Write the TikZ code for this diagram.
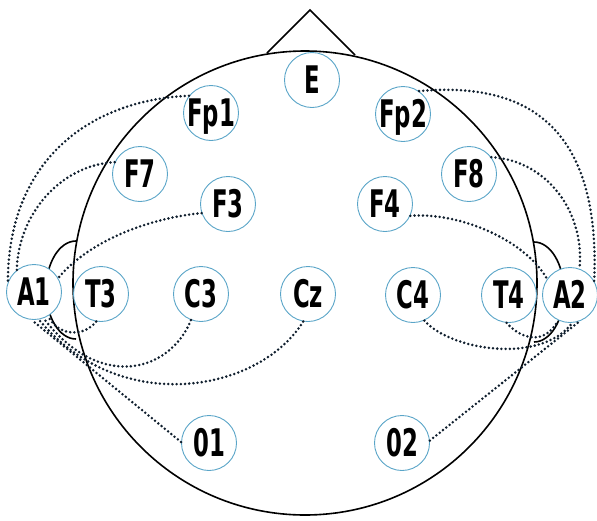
\documentclass[tikz,border=0pt]{standalone}
\usepackage{fontspec}
\newfontfamily\elfont[FakeStretch=0.6]{DejaVu Sans}
\definecolor{ring}{RGB}{90,165,200}
\definecolor{dots}{RGB}{15,30,45}
\newcommand\lbl[1]{\smash{\makebox[0pt]{\raisebox{-0.365em}{#1}}}}
\begin{document}
\begin{tikzpicture}[x=1pt,y=-1pt,
  electrode/.style={circle, draw=ring, line width=0.9pt, fill=white, minimum size=55pt, inner sep=0pt,
    font=\elfont\bfseries\fontsize{38}{38}\selectfont},
  lead/.style={draw=dots, line width=2.8pt, dash pattern=on 0pt off 4.2pt, line cap=round},
  outline/.style={draw=black, line width=1.6pt}]
\useasboundingbox (0,0) rectangle (597,520);
% head, nose, ears
\draw[outline] (305,283) circle[radius=232];
\draw[outline] (267,53) -- (310,10) -- (355,55);
\draw[outline] (76,241) arc[start angle=-90, end angle=-270, x radius=30, y radius=49];
\draw[outline] (534,242) arc[start angle=-90, end angle=90, x radius=30, y radius=50];
% electrodes
\node[electrode] (E)   at (312,80)  {\lbl{E}};
\node[electrode] (Fp1) at (211,113) {\lbl{Fp1}};
\node[electrode] (Fp2) at (403,114) {\lbl{Fp2}};
\node[electrode] (F7)  at (140,174) {\lbl{F7}};
\node[electrode] (F8)  at (469,174) {\lbl{F8}};
\node[electrode] (F3)  at (228,204) {\lbl{F3}};
\node[electrode] (F4)  at (385,204) {\lbl{F4}};
\node[electrode] (A1)  at (34,292)  {\lbl{A1}};
\node[electrode] (T3)  at (101,294) {\lbl{T3}};
\node[electrode] (C3)  at (201,294) {\lbl{C3}};
\node[electrode] (Cz)  at (308,294) {\lbl{Cz}};
\node[electrode] (C4)  at (413,295) {\lbl{C4}};
\node[electrode] (T4)  at (509,295) {\lbl{T4}};
\node[electrode] (A2)  at (570,295) {\lbl{A2}};
\node[electrode] (O1)  at (209,443) {\lbl{01}};
\node[electrode] (O2)  at (402,443) {\lbl{02}};
% leads to A1
\draw[lead] (Fp1.142) .. controls (90,100) and (8,160) .. (A1.159);
\draw[lead] (F7.155) .. controls (60,165) and (18,215) .. (A1.128);
\draw[lead] (F3.199) .. controls (150,218) and (90,240) .. (A1.30);
\draw[lead] (T3.-100) .. controls (85,336) and (60,338) .. (A1.-60);
\draw[lead] (C3.-111) .. controls (170,372) and (100,392) .. (A1.-70);
\draw[lead] (Cz.-100) .. controls (260,392) and (120,418) .. (A1.-80);
\draw[lead] (O1.178) -- (A1.-95);
% leads to A2
\draw[lead] (Fp2.55) .. controls (540,80) and (600,140) .. (A2.30);
\draw[lead] (F8.37) .. controls (545,160) and (585,210) .. (A2.70);
\draw[lead] (F4.-25) .. controls (460,212) and (525,240) .. (A2.145);
\draw[lead] (T4.-95) .. controls (522,340) and (545,345) .. (A2.-115);
\draw[lead] (C4.-66) .. controls (450,350) and (540,365) .. (A2.-85);
\draw[lead] (O2.5) -- (A2.-70);
\end{tikzpicture}
\end{document}
